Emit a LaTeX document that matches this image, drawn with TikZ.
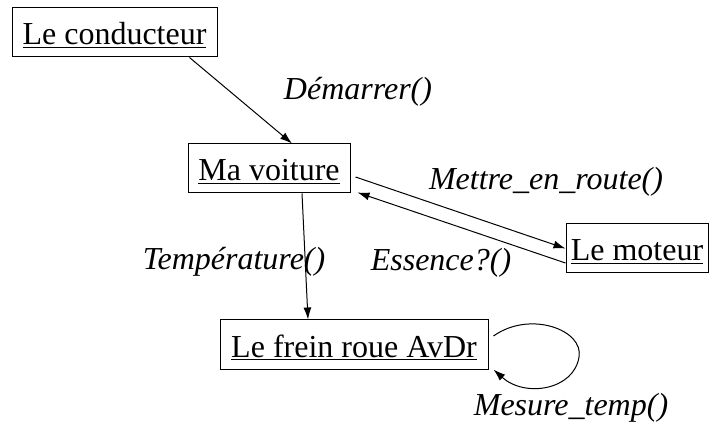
\documentclass[tikz,border=0pt]{standalone}
\usepackage{fontspec}
\setmainfont{Liberation Serif}
\usetikzlibrary{arrows.meta}
\begin{document}
\begin{tikzpicture}[x=1pt,y=-1pt,
  obj/.style={draw,line width=1pt,inner sep=0pt,text height=30pt,text depth=5pt,font=\fontsize{32}{38}\selectfont},
  msg/.style={inner sep=0pt,font=\fontsize{32}{38}\selectfont\itshape},
  conn/.style={line width=1pt,-{Latex[length=12pt,width=8pt]}}]
\useasboundingbox (0,0) rectangle (709,427);
\node[obj,minimum width=205pt,minimum height=49pt] (cond) at (114.5,32.5) {\underline{Le conducteur}};
\node[obj,minimum width=162pt,minimum height=49pt] (voit) at (269,168.5) {\underline{Ma voiture}};
\node[obj,minimum width=142pt,minimum height=49pt] (mot) at (637,248.5) {\underline{Le moteur}};
\node[obj,minimum width=268pt,minimum height=49pt] (frein) at (354,344.5) {\underline{Le frein roue AvDr}};
\node[msg] (l1) at (358,92) {Démarrer()};
\node[msg] (l2) at (546,182) {Mettre\_en\_route()};
\node[msg] (l3) at (234,262) {Température()};
\node[msg] (l4) at (441,263) {Essence?()};
\node[msg] (l5) at (571,408) {Mesure\_temp()};
\draw[conn] ([xshift=75pt]cond.south) -- ([xshift=23pt]voit.north);
\draw[conn] ([xshift=5pt,yshift=-8.5pt]voit.east) -- (mot.west);
\draw[conn] ([yshift=-14.5pt]mot.west) -- ([xshift=7pt,yshift=1pt]voit.south east);
\draw[conn] ([xshift=33pt]voit.south) -- ([xshift=-46pt]frein.north);
\draw[conn] ([xshift=5pt,yshift=8.5pt]frein.east) .. controls (530,310) and (584,330) .. (579,357) .. controls (574,390) and (525,398) .. ([xshift=5pt]frein.south east);
\end{tikzpicture}
\end{document}
